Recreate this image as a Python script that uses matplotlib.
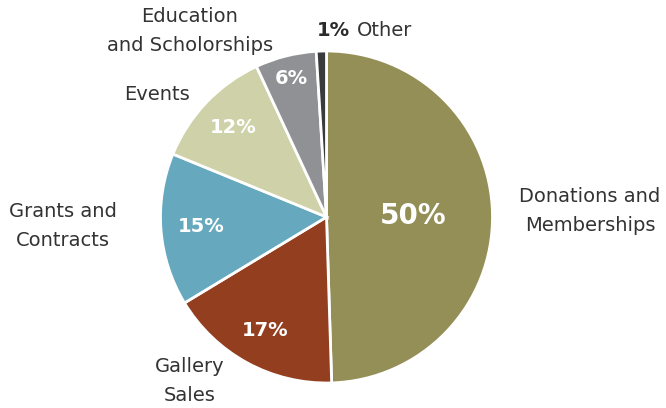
import matplotlib.pyplot as plt
import numpy as np

labels = ['Donations and\nMemberships', 'Gallery\nSales', 'Grants and\nContracts',
          'Events', 'Education\nand Scholorships', 'Other']
values = [50, 17, 15, 12, 6, 1]
colors = ['#948e57', '#933e1f', '#66a8be', '#cfd1a8', '#909195', '#3a3b3d']

# distance of the percent text from the centre (fraction of radius)
pct_dist = [0.52, 0.78, 0.76, 0.78, 0.86]
pct_size = [20, 14, 14, 14, 14]

# outside label positions (pixels from top-left)
label_pos = [(590, 211), (190, 381), (63, 226), (157, 94), (190, 31)]

plt.rcParams['font.family'] = ['DejaVu Sans']

fig = plt.figure(figsize=(6.66, 4.08), dpi=100)
ax = fig.add_axes([0, 0, 1, 1])

cx, cy, r = 326.5, -217, 166
wedges, _ = ax.pie(values, colors=colors, startangle=90, counterclock=False,
                   center=(cx, cy), radius=r,
                   wedgeprops=dict(edgecolor='white', linewidth=2))
ax.set_xlim(0, 666)
ax.set_ylim(-408, 0)
ax.set_aspect('equal')
ax.axis('off')

for i, w in enumerate(wedges[:-1]):
    ang = np.deg2rad((w.theta1 + w.theta2) / 2)
    d = pct_dist[i] * r
    ax.text(cx + d * np.cos(ang), cy + d * np.sin(ang), f'{values[i]}%',
            color='white', fontsize=pct_size[i], fontweight='bold',
            ha='center', va='center')

for lab, (x, y) in zip(labels[:-1], label_pos):
    ax.text(x, -y, lab, fontsize=14, color='#333333', ha='center', va='center',
            linespacing=1.7)

ax.text(350, -31, '1%', fontsize=14, fontweight='bold', color='#2b2b2b',
        ha='right', va='center')
ax.text(357, -31, 'Other', fontsize=14, color='#333333', ha='left', va='center')

fig.savefig('out.png', dpi=100)
